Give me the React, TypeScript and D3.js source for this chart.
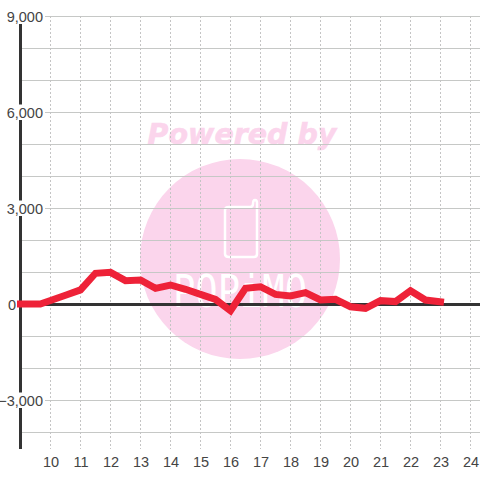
import * as d3 from 'd3';

const hours = [9, 9.66, 10, 10.5, 11, 11.5, 12, 12.5, 13, 13.5, 14, 14.5, 15, 15.5, 16, 16.5, 17, 17.5, 18, 18.5, 19, 19.5, 20, 20.5, 21, 21.5, 22, 22.5, 23];
const values = [0, 0, 110, 275, 440, 960, 990, 730, 750, 490, 594, 460, 300, 145, -210, 490, 540, 300, 250, 355, 125, 145, -85, -135, 105, 75, 415, 125, 70];
const xTicks = [10, 11, 12, 13, 14, 15, 16, 17, 18, 19, 20, 21, 22, 23, 24];
const yLabels = [9000, 6000, 3000, 0, -3000];
const yGrid = d3.range(9000, -4500, -1000).filter((v) => v !== 0);

const x = d3.scaleLinear().domain([9, 24]).range([20.5, 470.5]);
const y = d3.scaleLinear().domain([9000, -4500]).range([16, 448]);
const fmt = d3.format(',');
const font = '"Liberation Sans", Arial, sans-serif';

const path = d3
	.line<number>()
	.x((_, i) => x(hours[i]))
	.y((d) => y(d))(values) as string;

export default function App() {
	return (
		<svg
			width={480}
			height={480}
			style={{ position: 'fixed', left: 0, top: 0, background: '#fff' }}
			fontFamily={font}
		>
			{/* watermark */}
			<g>
				<circle cx={240} cy={259} r={100} fill="#fbd5ec" />
				<text x={242} y={144} textAnchor="middle" fontFamily="DejaVu Sans" fontWeight="bold" fontStyle="italic" fontSize={28.5} fill="#fbd5ec" stroke="#fbd5ec" strokeWidth={0.6}>
					Powered by
				</text>
				<path
					d="M229 207 H250 Q253 207 253 204 Q253 200 255 200 Q257 200 257 203 V254 Q257 257 254 257 H229 Q225 257 225 254 V210 Q225 207 229 207 Z"
					fill="none"
					stroke="#fff"
					strokeWidth={2.5}
				/>
				<text x={173} y={306.5} fontFamily="DejaVu Sans Mono" fontSize={45} fill="#fff" textLength={134} lengthAdjust="spacingAndGlyphs">
					POPiMO
				</text>
			</g>
			{/* grid */}
			{yGrid.map((v) => (
				<line key={v} x1={21} x2={480} y1={y(v) + 0.5} y2={y(v) + 0.5} stroke="#c6c8c6" strokeWidth={1} />
			))}
			{xTicks.map((t) => (
				<line key={t} x1={x(t)} x2={x(t)} y1={16} y2={449} stroke="#c4c4c4" strokeWidth={1} strokeDasharray="2 2" />
			))}
			{/* axes */}
			<line x1={20.5} x2={20.5} y1={16} y2={449} stroke="#333" strokeWidth={3} />
			<line x1={20} x2={480} y1={y(0) + 0.5} y2={y(0) + 0.5} stroke="#333" strokeWidth={3} />
			{/* labels */}
			{yLabels.map((v) => {
				const right = v === 0 ? 16 : 43;
				return (
					<g key={v}>
						{v !== 0 && <rect x={0} y={y(v) - 7.5} width={right + 2} height={15.5} fill="#fff" />}
						<text x={right} y={y(v) + 5.5} textAnchor="end" fontSize={14.5} fill="#444">
							{fmt(v)}
						</text>
					</g>
				);
			})}
			{xTicks.map((t) => (
				<text key={t} x={x(t) + 0.5} y={466.5} textAnchor="middle" fontSize={14.5} fill="#444">
					{t}
				</text>
			))}
			<path d={path} fill="none" stroke="#ee2238" strokeWidth={7} strokeLinejoin="miter" strokeLinecap="square" />
		</svg>
	);
}
